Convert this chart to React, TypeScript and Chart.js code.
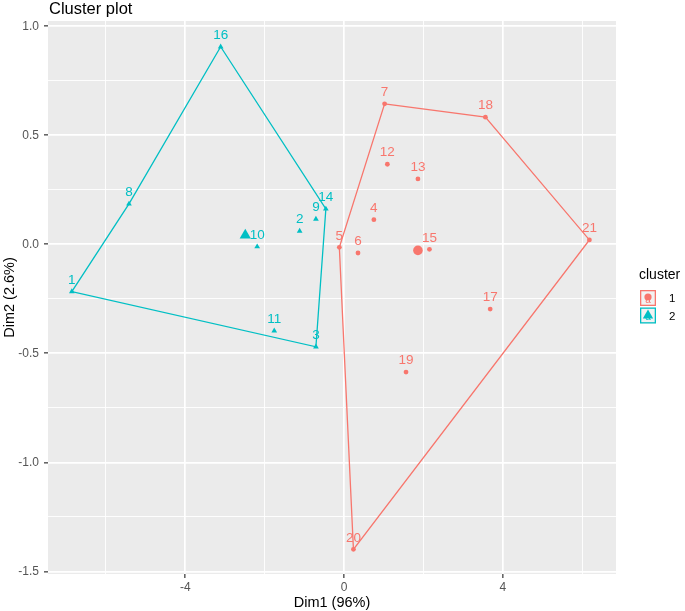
import React, { useEffect, useRef } from "react";
import { Chart, registerables } from "chart.js";

Chart.register(...registerables);

// ---- data ----
const cluster1Ids = [4, 5, 6, 7, 12, 13, 15, 17, 18, 19, 20, 21];
const cluster1X = [0.75, -0.12, 0.35, 1.02, 1.09, 1.86, 2.15, 3.68, 3.56, 1.56, 0.235, 6.18];
const cluster1Y = [0.113, -0.014, -0.04, 0.644, 0.367, 0.3, -0.023, -0.297, 0.583, -0.586, -1.399, 0.02];

const cluster2Ids = [1, 2, 3, 8, 9, 10, 11, 14, 16];
const cluster2X = [-6.86, -1.12, -0.71, -5.42, -0.71, -2.19, -1.76, -0.46, -3.11];
const cluster2Y = [-0.217, 0.061, -0.47, 0.185, 0.116, -0.011, -0.397, 0.162, 0.906];

const centroid1 = [1.86, -0.028];
const centroid2 = [-2.49, 0.041];

const hull1Order = [7, 18, 21, 20, 5];
const hull2Order = [16, 14, 3, 1, 8];

const xTicks = [-6, -4, -2, 0, 2, 4, 6];
const xLabeled = [-4, 0, 4];
const yTicks = [-1.5, -1.25, -1, -0.75, -0.5, -0.25, 0, 0.25, 0.5, 0.75, 1];
const yLabeled = [-1.5, -1, -0.5, 0, 0.5, 1];

const clusterNames = ["1", "2"];
const titleText = "Cluster plot";
const xTitle = "Dim1 (96%)";
const yTitle = "Dim2 (2.6%)";

// ---- style ----
const RED = "#F8766D";
const TEAL = "#00BFC4";
const FONT = "'Liberation Sans', Arial, sans-serif";

function pts(ids: number[], xs: number[], ys: number[]) {
  return ids.map((id, i) => ({ x: xs[i], y: ys[i], id }));
}
function hull(order: number[], ids: number[], xs: number[], ys: number[]) {
  const p = order.map((id) => {
    const i = ids.indexOf(id);
    return { x: xs[i], y: ys[i] };
  });
  return [...p, p[0]];
}
const isIn = (arr: number[], v: number) => arr.some((a) => Math.abs(a - v) < 1e-9);

export default function App() {
  const ref = useRef<HTMLCanvasElement>(null);
  useEffect(() => {
    const canvas = ref.current!;
    const p1 = pts(cluster1Ids, cluster1X, cluster1Y);
    const p2 = pts(cluster2Ids, cluster2X, cluster2Y);

    const decor = {
      id: "decor",
      beforeDraw(chart: any) {
        const { ctx, chartArea: a } = chart;
        ctx.save();
        ctx.fillStyle = "#FFFFFF";
        ctx.fillRect(0, 0, chart.width, chart.height);
        ctx.fillStyle = "#EBEBEB";
        ctx.fillRect(a.left, a.top, a.right - a.left, a.bottom - a.top);
        ctx.restore();
      },
      afterDraw(chart: any) {
        const { ctx, chartArea: a, scales } = chart;
        const xs = scales.x, ys = scales.y;
        ctx.save();
        // point labels
        ctx.textAlign = "center";
        ctx.textBaseline = "middle";
        ctx.font = `13.5px ${FONT}`;
        ctx.fillStyle = RED;
        p1.forEach((p) => ctx.fillText(String(p.id), xs.getPixelForValue(p.x), ys.getPixelForValue(p.y) - 11.5));
        ctx.fillStyle = TEAL;
        p2.forEach((p) => ctx.fillText(String(p.id), xs.getPixelForValue(p.x), ys.getPixelForValue(p.y) - 11.5));
        // title
        ctx.textAlign = "left";
        ctx.textBaseline = "alphabetic";
        ctx.fillStyle = "#000000";
        ctx.font = `16.5px ${FONT}`;
        ctx.fillText(titleText, a.left + 1, 14);
        // x title
        ctx.textAlign = "center";
        ctx.textBaseline = "middle";
        ctx.font = `14.5px ${FONT}`;
        ctx.fillText(xTitle, (a.left + a.right) / 2, 602.5);
        // y title
        ctx.save();
        ctx.translate(9.5, (a.top + a.bottom) / 2);
        ctx.rotate(-Math.PI / 2);
        ctx.fillText(yTitle, 0, 0);
        ctx.restore();
        // legend
        ctx.textAlign = "left";
        ctx.font = `14px ${FONT}`;
        ctx.fillText("cluster", 639, 275);
        const colors = [RED, TEAL];
        clusterNames.forEach((name, i) => {
          const bx = 640, by = 290 + i * 17.5, s = 16;
          ctx.fillStyle = "#F2F2F2";
          ctx.fillRect(bx, by, s, s);
          ctx.strokeStyle = colors[i];
          ctx.lineWidth = 1.3;
          ctx.strokeRect(bx + 0.65, by + 0.65, s - 1.3, s - 1.3);
          const cx = bx + s / 2, cy = by + s / 2;
          ctx.fillStyle = colors[i];
          ctx.font = `10px ${FONT}`;
          ctx.textAlign = "center";
          ctx.fillText("a", cx, cy + 2);
          ctx.beginPath();
          if (i === 0) {
            ctx.arc(cx, cy - 1, 3.6, 0, Math.PI * 2);
          } else {
            ctx.moveTo(cx, cy - 6);
            ctx.lineTo(cx + 5.2, cy + 3);
            ctx.lineTo(cx - 5.2, cy + 3);
            ctx.closePath();
          }
          ctx.fill();
          ctx.fillStyle = "#000000";
          ctx.font = `11.5px ${FONT}`;
          ctx.textAlign = "left";
          ctx.fillText(name, 669, cy + 1);
        });
        ctx.restore();
      },
    };

    const chart = new Chart(canvas, {
      type: "scatter",
      data: {
        datasets: [
          { data: [{ x: centroid1[0], y: centroid1[1] }], pointStyle: "circle", pointRadius: 4.8, backgroundColor: RED, borderWidth: 0 },
          { data: [{ x: centroid2[0], y: centroid2[1] }], pointStyle: "triangle", pointRadius: 6.5, backgroundColor: TEAL, borderWidth: 0 },
          { data: p1, pointStyle: "circle", pointRadius: 2.4, backgroundColor: RED, borderWidth: 0 },
          { data: p2, pointStyle: "triangle", pointRadius: 3.3, backgroundColor: TEAL, borderWidth: 0 },
          { data: hull(hull1Order, cluster1Ids, cluster1X, cluster1Y), showLine: true, pointRadius: 0, borderColor: RED, borderWidth: 1.3, backgroundColor: "transparent", tension: 0 },
          { data: hull(hull2Order, cluster2Ids, cluster2X, cluster2Y), showLine: true, pointRadius: 0, borderColor: TEAL, borderWidth: 1.3, backgroundColor: "transparent", tension: 0 },
        ] as any,
      },
      options: {
        responsive: false,
        animation: false,
        devicePixelRatio: 1,
        events: [],
        layout: { padding: { left: 0, top: 21, right: 69, bottom: 0 } },
        plugins: { legend: { display: false }, tooltip: { enabled: false }, title: { display: false } },
        scales: {
          x: {
            type: "linear",
            min: -7.46,
            max: 6.85,
            afterBuildTicks: (s: any) => { s.ticks = xTicks.map((v) => ({ value: v })); },
            afterFit: (s: any) => { s.height = 37; },
            border: { display: false },
            grid: {
              color: "#FFFFFF",
              lineWidth: (c: any) => (isIn(xLabeled, c.tick?.value) ? 1.7 : 0.9),
              tickColor: (c: any) => (isIn(xLabeled, c.tick?.value) ? "#333333" : "rgba(0,0,0,0)"),
              tickWidth: 1.2,
              tickLength: 4,
              drawTicks: true,
            },
            ticks: {
              autoSkip: false,
              maxRotation: 0,
              padding: 2,
              color: "#555555",
              font: { family: FONT, size: 12 },
              callback: (v: any) => (isIn(xLabeled, v) ? String(v) : ""),
            },
          },
          y: {
            type: "linear",
            min: -1.512,
            max: 1.024,
            afterBuildTicks: (s: any) => { s.ticks = yTicks.map((v) => ({ value: v })); },
            afterFit: (s: any) => { s.width = 48; },
            border: { display: false },
            grid: {
              color: "#FFFFFF",
              lineWidth: (c: any) => (isIn(yLabeled, c.tick?.value) ? 1.7 : 0.9),
              tickColor: (c: any) => (isIn(yLabeled, c.tick?.value) ? "#333333" : "rgba(0,0,0,0)"),
              tickWidth: 1.2,
              tickLength: 4,
              drawTicks: true,
            },
            ticks: {
              autoSkip: false,
              padding: 5,
              color: "#555555",
              font: { family: FONT, size: 12 },
              callback: (v: any) => (isIn(yLabeled, v) ? Number(v).toFixed(1) : ""),
            },
          },
        },
      },
      plugins: [decor],
    });
    return () => chart.destroy();
  }, []);

  return (
    <div style={{ position: "absolute", left: 0, top: 0, width: 685, height: 611 }}>
      <canvas ref={ref} width={685} height={611} style={{ display: "block", width: 685, height: 611 }} />
    </div>
  );
}
